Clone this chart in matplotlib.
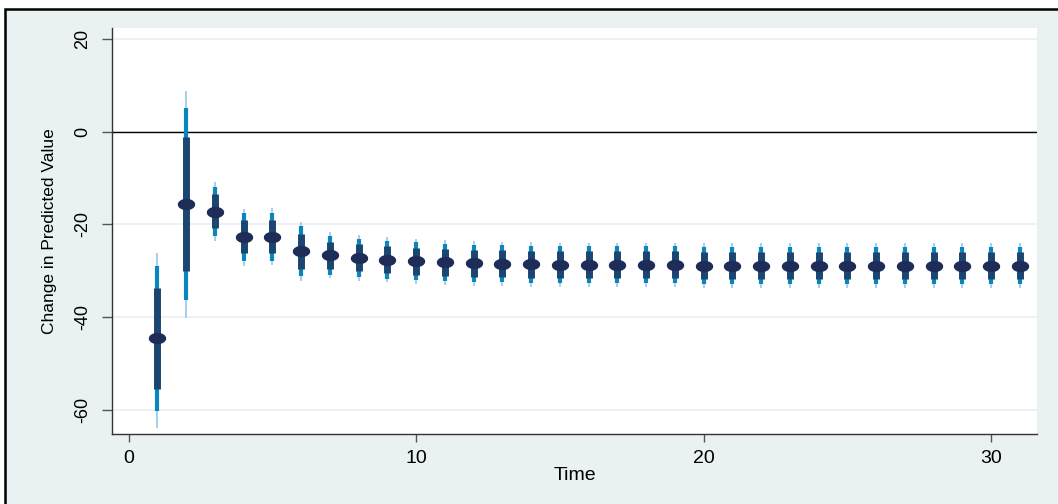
import numpy as np
import matplotlib.pyplot as plt
from matplotlib.patches import Rectangle
from matplotlib.path import Path

plt.rcParams['font.family'] = ['Liberation Sans', 'DejaVu Sans']

# -----------------------------
# Data
# -----------------------------
time = np.arange(1, 32)

estimate = [-44.5, -15.6, -17.2, -22.6, -22.6, -25.7, -26.6, -27.2, -27.7, -27.9,
            -28.2, -28.3, -28.5, -28.6, -28.7, -28.7, -28.8, -28.8, -28.8, -28.9,
            -28.9, -28.9, -28.9, -28.9, -28.9, -28.9, -28.9, -28.9, -28.9, -28.9, -28.9]

# narrow interval (dark bar)
inner_lo = [-55.4, -30.0, -20.7, -26.1, -26.1, -29.5, -29.6, -30.1, -30.4, -30.9,
            -31.1, -31.3, -31.4, -31.5, -31.6, -31.6, -31.6, -31.6, -31.6, -31.7,
            -31.7, -31.7, -31.7, -31.7, -31.7, -31.7, -31.7, -31.7, -31.7, -31.7, -31.7]
inner_hi = [-33.6, -1.1, -13.4, -19.0, -19.0, -22.1, -23.8, -24.2, -24.7, -25.1,
            -25.3, -25.5, -25.6, -25.7, -25.8, -25.8, -25.8, -25.8, -25.8, -26.0,
            -26.0, -26.0, -26.0, -26.0, -26.0, -26.0, -26.0, -26.0, -26.0, -26.0, -26.0]

# middle interval
mid_lo = [-60.2, -36.3, -22.4, -27.9, -27.9, -31.1, -30.9, -31.3, -31.7, -32.0,
          -32.2, -32.4, -32.5, -32.6, -32.7, -32.7, -32.7, -32.7, -32.7, -32.8,
          -32.8, -32.8, -32.8, -32.8, -32.8, -32.8, -32.8, -32.8, -32.8, -32.8, -32.8]
mid_hi = [-29.0, 5.2, -11.9, -17.5, -17.5, -20.3, -22.5, -23.1, -23.6, -23.8,
          -24.2, -24.4, -24.5, -24.6, -24.7, -24.7, -24.7, -24.7, -24.7, -24.8,
          -24.8, -24.8, -24.8, -24.8, -24.8, -24.8, -24.8, -24.8, -24.8, -24.8, -24.8]

# wide interval (thin light line)
outer_lo = [-63.9, -40.1, -23.6, -28.9, -28.7, -32.1, -31.6, -32.1, -32.4, -32.8,
            -33.0, -33.2, -33.3, -33.4, -33.5, -33.5, -33.5, -33.5, -33.5, -33.6,
            -33.6, -33.6, -33.6, -33.6, -33.6, -33.6, -33.6, -33.6, -33.6, -33.6, -33.6]
outer_hi = [-26.2, 8.8, -10.9, -16.7, -16.5, -19.5, -21.6, -22.3, -22.7, -23.1,
            -23.4, -23.6, -23.7, -23.8, -23.9, -23.9, -23.9, -23.9, -23.9, -24.0,
            -24.0, -24.0, -24.0, -24.0, -24.0, -24.0, -24.0, -24.0, -24.0, -24.0, -24.0]

x_ticks = [0, 10, 20, 30]
y_ticks = [-60, -40, -20, 0, 20]

# -----------------------------
# Figure
# -----------------------------
bg = "#e9f1f3"
fig = plt.figure(figsize=(10.58, 5.04), dpi=100, facecolor="white")

# outer Stata-style frame (behind the axes)
frame = Rectangle((5 / 1058, -0.1), 1.2, 1.1 - 9 / 504,
                  transform=fig.transFigure, facecolor=bg,
                  edgecolor="black", linewidth=1.8, zorder=-10)
fig.add_artist(frame)

ax = fig.add_axes([112 / 1058, 1 - 433.5 / 504, (1037 - 112) / 1058, (433.5 - 28) / 504])
ax.set_zorder(1)
ax.set_facecolor("white")

# grid + reference line
for y in y_ticks:
    ax.axhline(y, color="#e8eff2", linewidth=1.2, zorder=0)
ax.axhline(0, color="black", linewidth=1.0, zorder=1)

ax.vlines(time, outer_lo, outer_hi, color="#9fcbea", linewidth=1.3, zorder=2)
ax.vlines(time, mid_lo, mid_hi, color="#0a86bd", linewidth=3.0, zorder=3)
ax.vlines(time, inner_lo, inner_hi, color="#1a4670", linewidth=5.0, zorder=4)

theta = np.linspace(0, 2 * np.pi, 60)
ellipse = Path(np.column_stack([np.cos(theta), 0.62 * np.sin(theta)]))
ax.plot(time, estimate, linestyle="none", marker=ellipse, markersize=11.5,
        color="#1e2c58", zorder=5)

ax.set_xlim(-0.58, 31.6)
ax.set_ylim(-65.1, 22.4)
ax.set_xticks(x_ticks)
ax.set_yticks(y_ticks)
ax.set_yticklabels([str(v) for v in y_ticks], rotation=90, va="center")

for side in ["top", "right"]:
    ax.spines[side].set_visible(False)
for side in ["left", "bottom"]:
    ax.spines[side].set_color("#333333")
    ax.spines[side].set_linewidth(1.0)

ax.tick_params(axis="y", length=7, width=1, color="#555555", labelsize=13, pad=8)
ax.tick_params(axis="x", length=6, width=1, color="#555555", labelsize=14, pad=6)

ax.set_xlabel("Time", fontsize=14, labelpad=0)
ax.set_ylabel("Change in Predicted Value", fontsize=12.5, labelpad=12)

plt.savefig("out.png", dpi=100, facecolor="white")
